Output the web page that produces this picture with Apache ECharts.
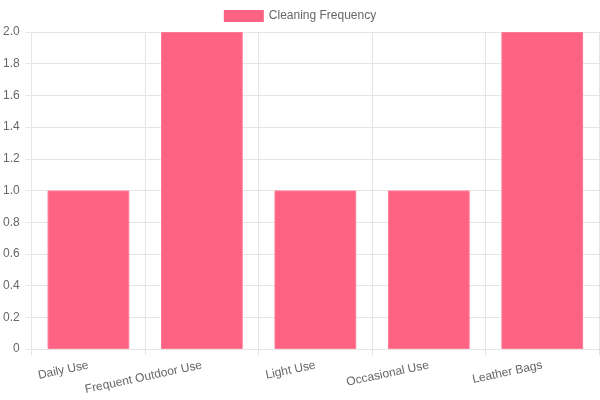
<!DOCTYPE html>
<html>
<head>
<meta charset="utf-8">
<script src="https://cdn.jsdelivr.net/npm/echarts@6/dist/echarts.min.js"></script>
<style>
  html, body { margin: 0; padding: 0; background: #fff; }
  #chartBox { width: 600px; height: 400px; }
</style>
</head>
<body>
<div id="chartBox"></div>
<script>
// categories & values
var categories = ['Daily Use', 'Frequent Outdoor Use', 'Light Use', 'Occasional Use', 'Leather Bags'];
var cleaningFrequency = [1, 2, 1, 1, 2];
var seriesName = 'Cleaning Frequency';

var chart = echarts.init(document.getElementById('chartBox'));
var gridColor = '#e5e5e5';
var textColor = '#666';

var option = {
  animation: false,
  textStyle: { fontFamily: 'Liberation Sans, Arial, sans-serif' },
  legend: {
    data: [seriesName],
    top: 5,
    left: 'center',
    icon: 'rect',
    itemWidth: 40,
    itemHeight: 12,
    itemGap: 10,
    itemStyle: { borderWidth: 0 },
    textStyle: { color: textColor, fontSize: 12 }
  },
  grid: { left: 30, right: 1, top: 32, bottom: 51, containLabel: false },
  xAxis: {
    type: 'category',
    data: categories,
    boundaryGap: true,
    axisLine: { lineStyle: { color: gridColor } },
    axisTick: { show: true, alignWithLabel: false, length: 6, lineStyle: { color: gridColor } },
    splitLine: { show: true, lineStyle: { color: gridColor } },
    axisLabel: { color: textColor, fontSize: 12, rotate: 12, margin: 16, interval: 0 }
  },
  yAxis: {
    type: 'value',
    min: 0,
    max: 2,
    interval: 0.2,
    axisLine: { show: true, lineStyle: { color: gridColor } },
    axisTick: { show: true, length: 6, lineStyle: { color: gridColor } },
    splitLine: { show: true, lineStyle: { color: gridColor } },
    axisLabel: {
      color: textColor,
      fontSize: 12,
      margin: 12,
      formatter: function (v) { return v === 0 ? '0' : v.toFixed(1); }
    }
  },
  series: [
    {
      name: seriesName,
      type: 'bar',
      data: cleaningFrequency,
      barWidth: '72%',
      itemStyle: { color: '#ff6384', borderColor: '#ff7a95', borderWidth: 1 }
    }
  ]
};
chart.setOption(option);
</script>
</body>
</html>
